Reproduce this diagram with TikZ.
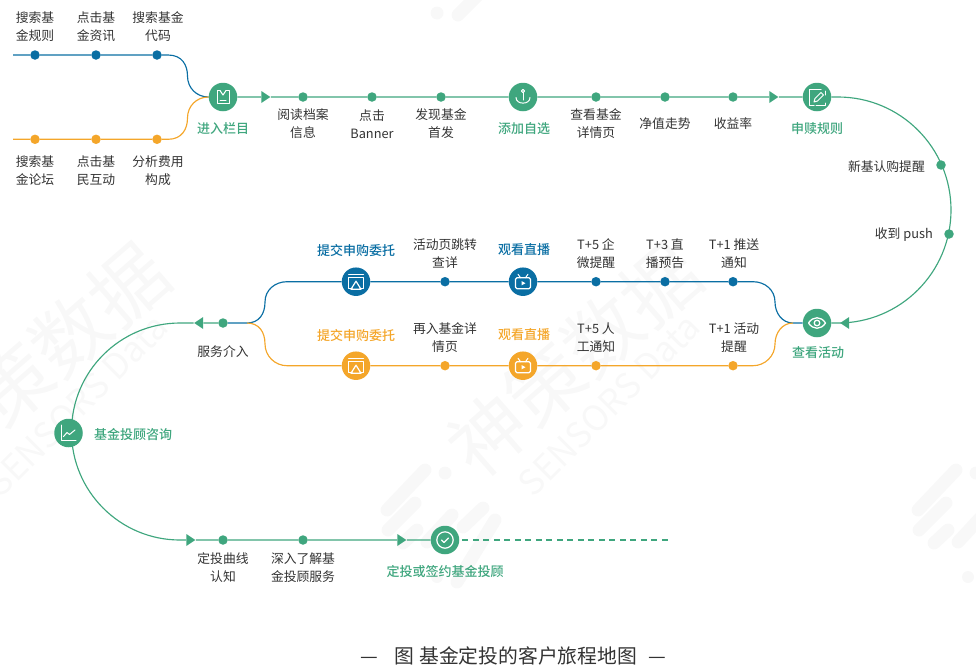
\documentclass[tikz,border=0pt]{standalone}
\usepackage{fontspec}
\setmainfont{Noto Sans CJK SC}[BoldFont={Noto Sans CJK SC Medium}]
\usetikzlibrary{shapes.geometric}
\definecolor{gn}{HTML}{3FA67E}
\definecolor{bl}{HTML}{0A6EA3}
\definecolor{og}{HTML}{F4A62A}
\definecolor{tx}{HTML}{333333}
\definecolor{wm}{HTML}{F8F8F8}
\pgfdeclarelayer{wmk}
\pgfdeclarelayer{conn}
\pgfsetlayers{wmk,conn,main}
\tikzset{
  lab/.style={text=tx,align=center,inner sep=0pt,font=\fontsize{12.8}{18}\selectfont},
  key/.style={inner sep=0pt,font=\fontsize{13}{18}\selectfont\bfseries},
  dot/.style={circle,fill=#1,inner sep=0pt,minimum size=9.5pt},
  ico/.style={circle,fill=#1,inner sep=0pt,minimum size=28.5pt},
  tipr/.style={isosceles triangle,isosceles triangle stretches,fill=gn,inner sep=0pt,minimum width=12pt,minimum height=9pt,anchor=center},
  tipl/.style={tipr,shape border rotate=180},
  ln/.style={line width=1.15pt,draw=#1},
  gl/.style={white,line width=1pt,line join=round,line cap=round},
  stripe/.style={line width=13pt,line cap=round,draw=wm},
}
\begin{document}
\begin{tikzpicture}[x=1pt,y=-1pt]
\path[use as bounding box] (0,0) rectangle (976,670);
% ---------- watermark
\begin{pgfonlayer}{wmk}
\foreach \dx in {0,532}{
  \node[text=wm,rotate=41,inner sep=0pt,font=\fontsize{76}{76}\selectfont] (wmA\dx) at (42+\dx,360) {神策数据};
  \node[text=wm,rotate=45,inner sep=0pt,font=\fontsize{35}{35}\selectfont] (wmB\dx) at (77+\dx,405) {SENSORS Data};
}
\foreach \dx in {0,531}{
  \begin{scope}[shift={(\dx,0)}]
  \draw[stripe] (387,510)--(425,470);
  \draw[stripe] (388,530)--(415,503);
  \draw[stripe] (403,543)--(417,530);
  \draw[stripe] (427,542)--(452,515);
  \draw[stripe] (463,527)--(483,508);
  \draw[stripe] (457,582)--(495,520);
  \fill[wm] (445,473) circle (6.5);
  \fill[wm] (437,577) circle (6);
  \end{scope}
}
\draw[stripe] (458,15)--(490,-17);
\fill[wm] (437,13) circle (6.5);
\end{pgfonlayer}
% ---------- free ends and junctions
\coordinate (bs) at (13,55);
\coordinate (os) at (13,139.3);
\coordinate (bA) at (168,55);
\coordinate (bB) at (187.5,76);
\coordinate (oA) at (168,139.3);
\coordinate (oB) at (187.5,118);
\coordinate (jl) at (247,323);
\coordinate (jr) at (793,323);
\coordinate (bl1) at (265,302);
\coordinate (bl2) at (287,281.7);
\coordinate (ol1) at (265,344);
\coordinate (ol2) at (287,365.7);
\coordinate (br1) at (775,302);
\coordinate (br2) at (753,281.7);
\coordinate (or1) at (775,344);
\coordinate (or2) at (753,365.7);
\coordinate (ra) at (838,97);
\coordinate (la) at (180,323);
\coordinate (dash) at (670,540);
% ---------- nodes: row 1
\node[dot=bl] (b1) at (35,55) {};
\node[dot=bl] (b2) at (96,55) {};
\node[dot=bl] (b3) at (157,55) {};
\node[dot=og] (o1) at (35,139.3) {};
\node[dot=og] (o2) at (96,139.3) {};
\node[dot=og] (o3) at (157,139.3) {};
\node[ico=gn] (enter) at (223,97) {};
\node[tipr] (a1) at (264.5,97) {};
\node[dot=gn] (g1) at (303,97) {};
\node[dot=gn] (g2) at (372,97) {};
\node[dot=gn] (g3) at (441,97) {};
\node[ico=gn] (anch) at (523,97) {};
\node[dot=gn] (g4) at (596,97) {};
\node[dot=gn] (g5) at (665,97) {};
\node[dot=gn] (g6) at (733,97) {};
\node[tipr] (a2) at (772.5,97) {};
\node[ico=gn] (rule) at (817,97) {};
\node[dot=gn] (r1) at (941,165) {};
\node[dot=gn] (r2) at (949,234) {};
\node[tipl] (a3) at (846,323) {};
\node[ico=gn] (look) at (817,323) {};
% row 2
\node[ico=bl] (bi1) at (356,281.7) {};
\node[dot=bl] (bd1) at (445,281.7) {};
\node[ico=bl] (bi2) at (523,281.7) {};
\node[dot=bl] (bd2) at (596,281.7) {};
\node[dot=bl] (bd3) at (665,281.7) {};
\node[dot=bl] (bd4) at (733,281.7) {};
\node[ico=og] (oi1) at (356,365.7) {};
\node[dot=og] (od1) at (445,365.7) {};
\node[ico=og] (oi2) at (523,365.7) {};
\node[dot=og] (od2) at (596,365.7) {};
\node[dot=og] (od3) at (733,365.7) {};
\node[dot=gn] (sv) at (223,323) {};
\node[tipl] (a4) at (200,323) {};
\node[ico=gn] (cons) at (68.5,433) {};
\node[tipr] (a5) at (189.5,540) {};
\node[dot=gn] (e1) at (223,540) {};
\node[dot=gn] (e2) at (303,540) {};
\node[tipr] (a6) at (400.5,540) {};
\node[ico=gn] (done) at (445,540) {};
% ---------- labels
\node[lab] (t1) at (35,27) {搜索基\\金规则};
\node[lab] (t2) at (96,27) {点击基\\金资讯};
\node[lab] (t3) at (158,27) {搜索基金\\代码};
\node[lab] (t4) at (35,171) {搜索基\\金论坛};
\node[lab] (t5) at (96,171) {点击基\\民互动};
\node[lab] (t6) at (158,171) {分析费用\\构成};
\node[key,text=gn] (k1) at (223,129) {进入栏目};
\node[lab] (t7) at (303,124) {阅读档案\\信息};
\node[lab] (t8) at (372,124) {点击\\Banner};
\node[lab] (t9) at (441,124) {发现基金\\首发};
\node[key,text=gn] (k2) at (524,129) {添加自选};
\node[lab] (t10) at (596,124) {查看基金\\详情页};
\node[lab] (t11) at (665,124) {净值走势};
\node[lab] (t12) at (733,124) {收益率};
\node[key,text=gn] (k3) at (817,129) {申赎规则};
\node[lab,anchor=east] (t13) at (925,166.5) {新基认购提醒};
\node[lab,anchor=east] (t14) at (933,235) {收到 push};
\node[key,text=gn] (k4) at (818,353) {查看活动};
\node[key,text=bl] (k5) at (356,250) {提交申购委托};
\node[lab] (t15) at (445,253.5) {活动页跳转\\查详};
\node[key,text=bl] (k6) at (524,250) {观看直播};
\node[lab] (t16) at (596,253.5) {T+5 企\\微提醒};
\node[lab] (t17) at (665,253.5) {T+3 直\\播预告};
\node[lab] (t18) at (734,253.5) {T+1 推送\\通知};
\node[key,text=og] (k7) at (356,335) {提交申购委托};
\node[lab] (t19) at (445,338) {再入基金详\\情页};
\node[key,text=og] (k8) at (524,335) {观看直播};
\node[lab] (t20) at (596,338) {T+5 人\\工通知};
\node[lab] (t21) at (734,338) {T+1 活动\\提醒};
\node[lab] (t22) at (223,352) {服务介入};
\node[key,text=gn,anchor=west] (k9) at (94,435) {基金投顾咨询};
\node[lab] (t23) at (223,568) {定投曲线\\认知};
\node[lab] (t24) at (303,568) {深入了解基\\金投顾服务};
\node[key,text=gn] (k10) at (445,572) {定投或签约基金投顾};
\node[text=tx,inner sep=0pt,font=\fontsize{19.8}{24}\selectfont] (cap) at (513,656) {—\hspace{17pt}图 基金定投的客户旅程地图\hspace{11pt}—};
% ---------- connectors
\begin{pgfonlayer}{conn}
\draw[ln=bl] (bs) -- (b1) -- (b2) -- (b3) -- (bA) .. controls +(14,0) and +(0,-11) .. (bB) .. controls +(0,12) and +(-12,0) .. (enter.west);
\draw[ln=og] (os) -- (o1) -- (o2) -- (o3) -- (oA) .. controls +(14,0) and +(0,11) .. (oB) .. controls +(0,-12) and +(-12,0) .. (enter.west);
\draw[ln=gn] (enter) -- (a1) -- (g1) -- (g2) -- (g3) -- (anch) -- (g4) -- (g5) -- (g6) -- (a2) -- (rule) -- (ra) arc[start angle=90,end angle=-90,radius=113pt] -- (a3) -- (look);
\draw[ln=bl] (look) -- (jr) .. controls +(-11,0) and +(0,11) .. (br1) .. controls +(0,-12) and +(12,0) .. (br2) -- (bd4) -- (bd3) -- (bd2) -- (bi2) -- (bd1) -- (bi1) -- (bl2) .. controls +(-12,0) and +(0,-12) .. (bl1) .. controls +(0,12) and +(12,0) .. (jl) -- (sv);
\draw[ln=og] (jr) .. controls +(-11,0) and +(0,-11) .. (or1) .. controls +(0,12) and +(12,0) .. (or2) -- (od3) -- (od2) -- (oi2) -- (od1) -- (oi1) -- (ol2) .. controls +(-12,0) and +(0,12) .. (ol1) .. controls +(0,-12) and +(12,0) .. (jl);
\draw[ln=gn] (sv) -- (a4) -- (la) arc[start angle=90,end angle=270,radius=108.5pt] -- (a5) -- (e1) -- (e2) -- (a6) -- (done);
\draw[ln=gn,dash pattern=on 6pt off 4.5pt,shorten <=3pt] (done.east) -- (dash);
\end{pgfonlayer}
% ---------- icon glyphs
\begin{scope}[shift={(enter)}]
  \draw[gl] (-3,-6.5) -- (-6,-6.5) -- (-6,6) -- (6,6) -- (6,-6.5) -- (3,-6.5);
  \draw[gl] (-3,-6.5) -- (0,-2) -- (3,-6.5);
  \draw[gl] (-3,3.5) -- (3,3.5);
\end{scope}
\begin{scope}[shift={(anch)}]
  \draw[gl] (0,-6) circle (1.6);
  \draw[gl] (0,-4.4) -- (0,3);
  \draw[gl] (-7,0.5) .. controls (-7,8) and (7,8) .. (7,0.5);
\end{scope}
\begin{scope}[shift={(rule)}]
  \draw[gl] (4,-8) -- (-8,-8) -- (-8,8) -- (-3,8);
  \draw[gl] (8,-6) -- (8,-2);
  \draw[gl] (-1,8) -- (8,8) -- (8,6);
  \draw[gl] (-3,5) -- (-2,1.5) -- (4,-4.5) -- (6.5,-2) -- (0.5,4) -- cycle;
\end{scope}
\begin{scope}[shift={(look)}]
  \draw[gl,line width=1.3pt] (-8.5,0) .. controls (-4,-7) and (4,-7) .. (8.5,0) .. controls (4,7) and (-4,7) .. (-8.5,0) -- cycle;
  \draw[gl,line width=1.3pt] (0,0) circle (2.8);
\end{scope}
\foreach \n in {bi1,oi1}{
\begin{scope}[shift={(\n)}]
  \draw[gl] (-7.5,-7) -- (7.5,-7);
  \draw[gl] (-4,7) -- (-7.5,7) -- (-7.5,-4) -- (7.5,-4) -- (7.5,7) -- (4,7);
  \draw[gl,line width=1.2pt] (0,-0.5) -- (5,7.5) -- (-5,7.5) -- cycle;
\end{scope}}
\foreach \n in {bi2,oi2}{
\begin{scope}[shift={(\n)}]
  \draw[gl,rounded corners=1.5pt,line width=1.2pt] (-7.5,-4) rectangle (7.5,7);
  \draw[gl] (-2.5,-4) -- (-5,-7.5);
  \draw[gl] (2.5,-4) -- (5,-7.5);
  \fill[white] (-1.5,-0.7) -- (2.5,1.5) -- (-1.5,3.7) -- cycle;
\end{scope}}
\begin{scope}[shift={(cons)}]
  \draw[gl] (-7.5,-8) -- (-7.5,7) -- (7.5,7);
  \draw[gl] (-5,3.5) -- (-1.5,-0.5) -- (1,1.5) -- (6.5,-3);
\end{scope}
\begin{scope}[shift={(done)}]
  \draw[gl,line width=1.2pt] (0,0) circle (8.2);
  \draw[gl,line width=1.3pt] (-3.5,0) -- (-1,2.5) -- (3.5,-2);
\end{scope}
\end{tikzpicture}
\end{document}
